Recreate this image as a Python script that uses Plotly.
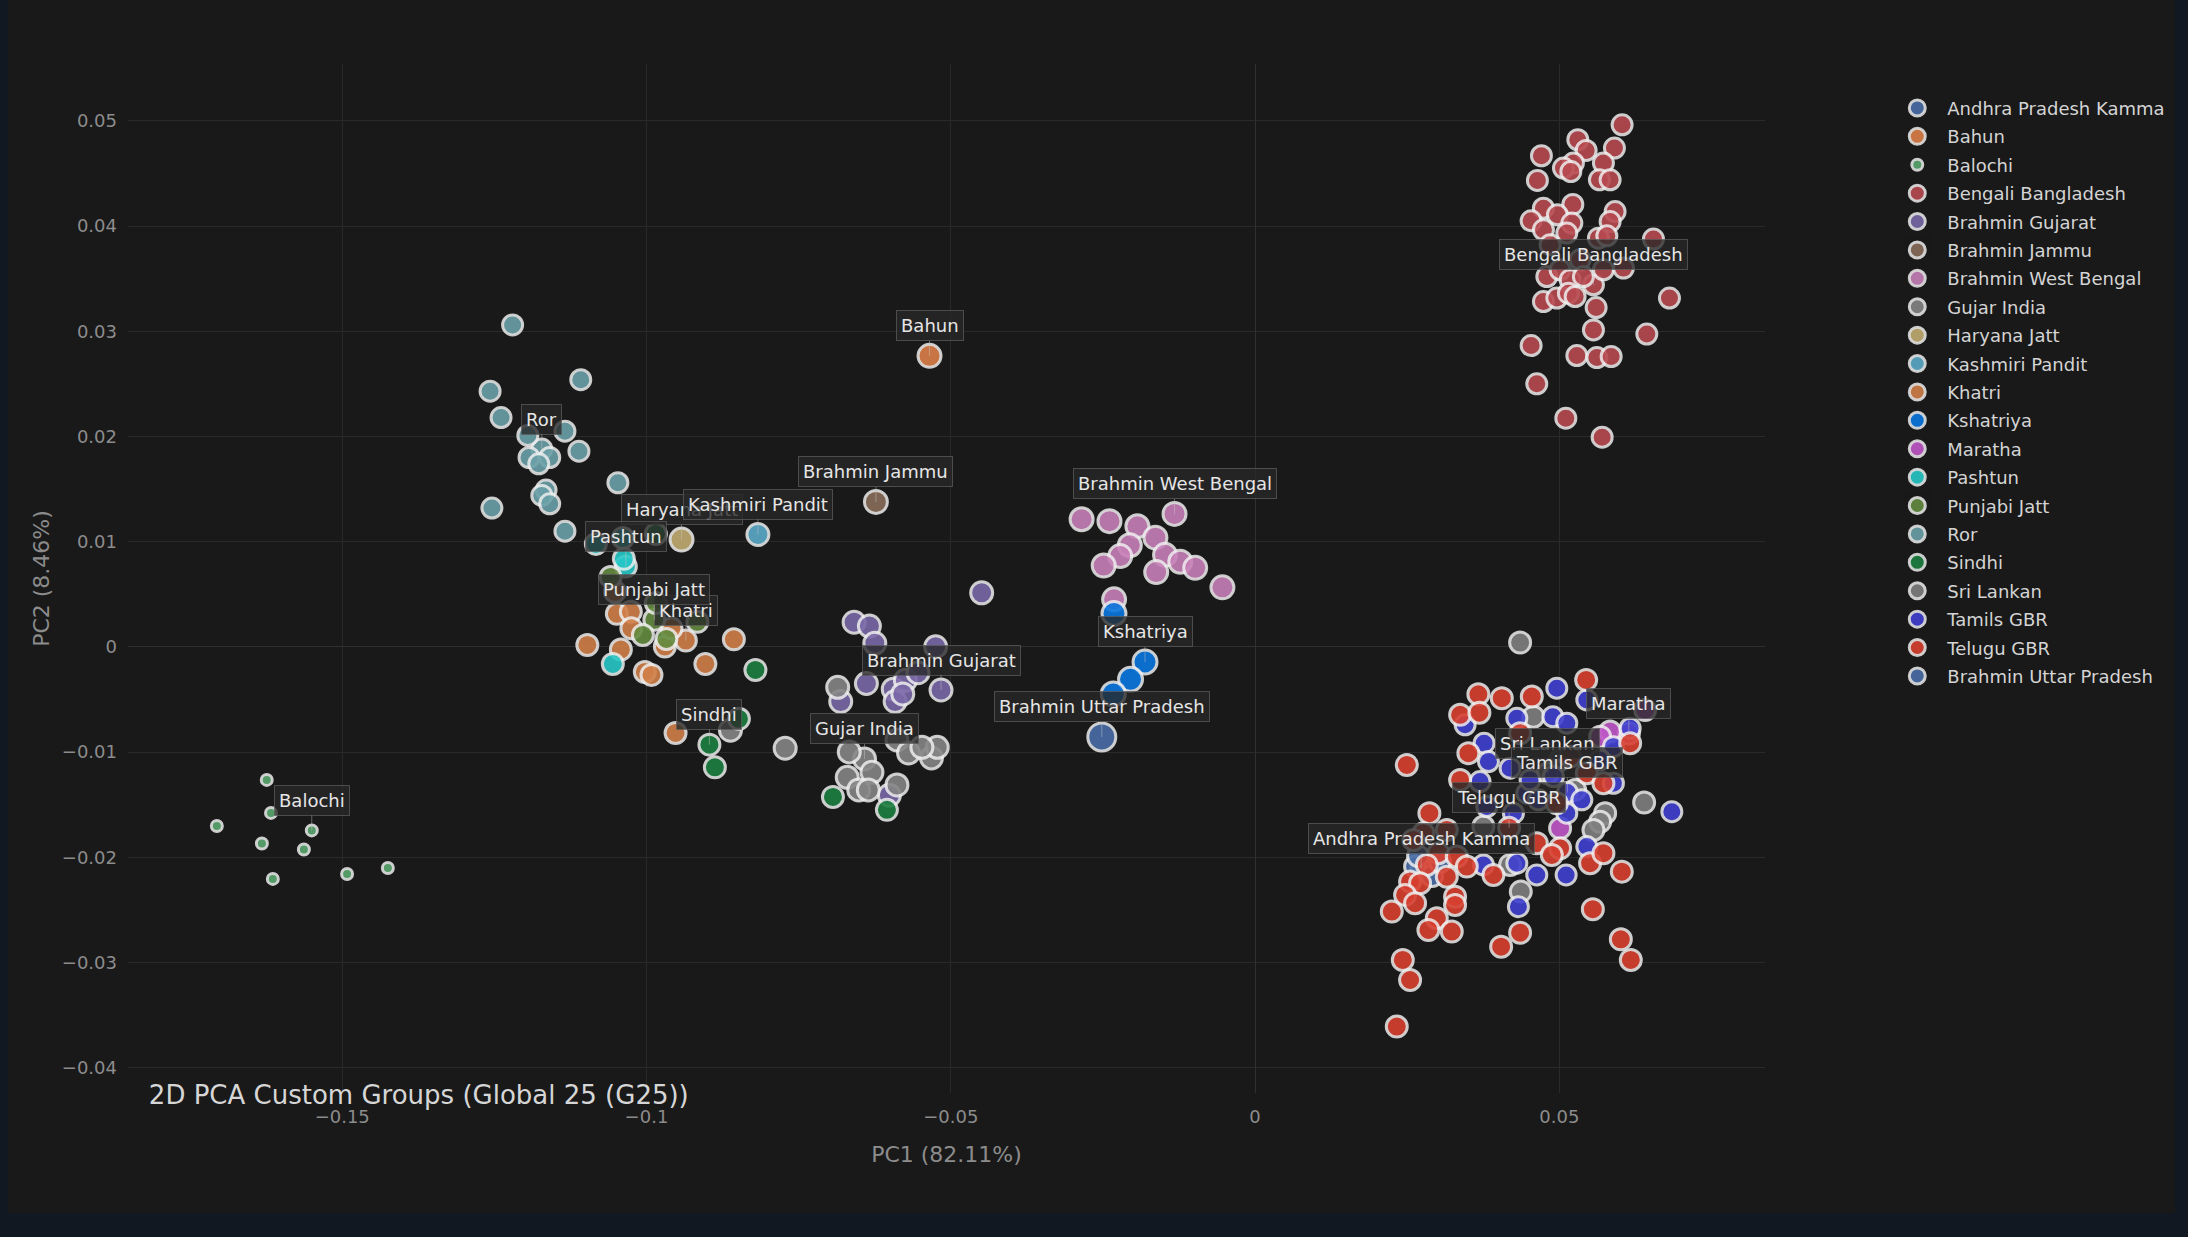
import plotly.graph_objects as go

# ---------------- data (PC1, PC2) ; first point of each group carries its label ----------------
andhra_x = [0.02729, 0.02630, 0.02909, 0.02679, 0.03041]
andhra_y = [-0.02108, -0.02088, -0.02177, -0.01987, -0.02044]

bahun_x = [-0.05349]
bahun_y = [0.02766]

balochi_x = [-0.1550, -0.1624, -0.1617, -0.1706, -0.1632, -0.1563, -0.1614, -0.1492, -0.1425]
balochi_y = [-0.01744, -0.01264, -0.01578, -0.01702, -0.01868, -0.01926, -0.02205, -0.02158, -0.02101]

bengali_x = [0.05561, 0.06032, 0.05304, 0.05441, 0.05906, 0.04706, 0.05725, 0.05232, 0.05068, 0.05189,
             0.05659, 0.05835, 0.04640, 0.04739, 0.05222, 0.05917, 0.04969, 0.04537, 0.05835, 0.05206,
             0.04739, 0.05123, 0.05643, 0.05781, 0.06547, 0.04849, 0.05342, 0.05725, 0.06054, 0.04795,
             0.05013, 0.05178, 0.05396, 0.04739, 0.04959, 0.05150, 0.05260, 0.05605, 0.06810, 0.05561,
             0.06438, 0.04537, 0.05288, 0.05617, 0.05852, 0.04630, 0.05107, 0.05704]
bengali_y = [0.03441, 0.04962, 0.04820, 0.04718, 0.04741, 0.04668, 0.04598, 0.04598, 0.04551, 0.04518,
             0.04439, 0.04439, 0.04433, 0.04170, 0.04205, 0.04138, 0.04107, 0.04050, 0.04043, 0.04028,
             0.03964, 0.03933, 0.03885, 0.03907, 0.03876, 0.03821, 0.03679, 0.03584, 0.03600, 0.03520,
             0.03584, 0.03489, 0.03520, 0.03282, 0.03315, 0.03362, 0.03330, 0.03225, 0.03315, 0.03013,
             0.02973, 0.02864, 0.02769, 0.02750, 0.02760, 0.02500, 0.02174, 0.01993]

brahmin_gujarat_x = [-0.05160, -0.06588, -0.06337, -0.06248, -0.05248, -0.04492, -0.06386, -0.06808,
                     -0.05945, -0.05745, -0.05538, -0.05914, -0.05789, -0.06009]
brahmin_gujarat_y = [-0.00410, 0.00234, 0.00198, 0.00034, 0.00001, 0.00514, -0.00348, -0.00519,
                     -0.00402, -0.00318, -0.00246, -0.00519, -0.00447, -0.01410]

brahmin_jammu_x = [-0.06230]
brahmin_jammu_y = [0.01378]

brahmin_wb_x = [-0.01323, -0.02850, -0.02392, -0.01933, -0.01637, -0.02058, -0.02216, -0.02487,
                -0.01479, -0.01228, -0.01624, -0.00983, -0.00536, -0.02316]
brahmin_wb_y = [0.01264, 0.01213, 0.01195, 0.01147, 0.01038, 0.00966, 0.00863, 0.00773,
                0.00875, 0.00809, 0.00711, 0.00751, 0.00566, 0.00452]

gujar_x = [-0.06417, -0.06858, -0.08620, -0.07721, -0.06668, -0.05884, -0.05694, -0.05317,
           -0.05222, -0.06701, -0.06295, -0.06512, -0.06355, -0.05884, -0.05474]
gujar_y = [-0.01065, -0.00384, -0.00792, -0.00963, -0.00998, -0.00884, -0.01008, -0.01055,
           -0.00955, -0.01240, -0.01192, -0.01359, -0.01359, -0.01312, -0.00955]

haryana_x = [-0.09424]
haryana_y = [0.01020]

kashmiri_x = [-0.08169]
kashmiri_y = [0.01068]

khatri_x = [-0.09353, -0.10487, -0.10257, -0.10520, -0.10972, -0.10248, -0.09698, -0.09589,
            -0.10421, -0.10027, -0.09918, -0.09032, -0.08564, -0.09522]
khatri_y = [0.00060, 0.00314, 0.00333, 0.00523, 0.00019, 0.00176, 0.00003, 0.00176,
            -0.00025, -0.00238, -0.00266, -0.00162, 0.00072, -0.00818]

kshatriya_x = [-0.01808, -0.02318, -0.02046, -0.02329]
kshatriya_y = [-0.00143, 0.00318, -0.00308, -0.00447]

maratha_x = [0.06143, 0.06410, 0.05835, 0.05671, 0.05013]
maratha_y = [-0.00824, -0.00599, -0.00805, -0.00853, -0.01723]

pashtun_x = [-0.10339, -0.10832, -0.10388, -0.10372, -0.10553]
pashtun_y = [0.00765, 0.00979, 0.01036, 0.00837, -0.00162]

punjabi_x = [-0.09871, -0.10590, -0.09846, -0.10059, -0.09673, -0.09164]
punjabi_y = [0.00257, 0.00665, 0.00418, 0.00114, 0.00076, 0.00238]

ror_x = [-0.1172, -0.1220, -0.1257, -0.1108, -0.1239, -0.1195, -0.1134, -0.1159, -0.1193,
         -0.1111, -0.1177, -0.1047, -0.1165, -0.1172, -0.1159, -0.1254, -0.1134]
ror_y = [0.0188, 0.0306, 0.0243, 0.0254, 0.0218, 0.0201, 0.0205, 0.0180, 0.0180,
         0.0186, 0.0174, 0.0156, 0.0149, 0.0144, 0.0136, 0.0132, 0.0110]

sindhi_x = [-0.08966, -0.08210, -0.08481, -0.08876, -0.06936, -0.06049, -0.09846]
sindhi_y = [-0.00929, -0.00219, -0.00684, -0.01145, -0.01426, -0.01549, 0.01074]

srilankan_x = [0.04811, 0.04356, 0.06394, 0.04574, 0.05753, 0.05671, 0.05561, 0.03753,
               0.04191, 0.04367, 0.05013, 0.05260]
srilankan_y = [-0.01201, 0.00041, -0.01480, -0.00663, -0.01581, -0.01661, -0.01740, -0.01708,
               -0.02072, -0.02326, -0.01074, -0.01359]

tamils_x = [0.05133, 0.04959, 0.05452, 0.04302, 0.04893, 0.05123, 0.03452, 0.06164, 0.03764,
            0.03835, 0.04191, 0.05889, 0.05889, 0.03698, 0.05370, 0.05123, 0.03808, 0.04466,
            0.04246, 0.04657, 0.04903, 0.05452, 0.03753, 0.04302, 0.04630, 0.05112, 0.04328,
            0.06849, 0.04520, 0.05671]
tamils_y = [-0.01385, -0.00393, -0.00504, -0.00678, -0.00663, -0.00725, -0.00741, -0.00773, -0.00915,
            -0.01090, -0.01153, -0.00948, -0.01296, -0.01280, -0.01454, -0.01581, -0.01518, -0.01391,
            -0.01581, -0.01454, -0.01233, -0.01898, -0.02072, -0.02056, -0.02167, -0.02167, -0.02469,
            -0.01566, -0.01264, -0.01074]

telugu_x = [0.04175, 0.05441, 0.03670, 0.04055, 0.04548, 0.03370, 0.03687, 0.06164, 0.02494,
            0.03506, 0.04356, 0.03370, 0.05178, 0.05452, 0.05725, 0.04959, 0.02865, 0.03151,
            0.02766, 0.02602, 0.03013, 0.03315, 0.02822, 0.03480, 0.03151, 0.03917, 0.04630,
            0.05013, 0.04877, 0.05506, 0.05725, 0.06027, 0.02548, 0.02712, 0.02466, 0.03287,
            0.02630, 0.03287, 0.02247, 0.02987, 0.02849, 0.03233, 0.04356, 0.04044, 0.05551,
            0.06011, 0.06175, 0.02428, 0.02548, 0.02329]
telugu_y = [-0.01718, -0.00314, -0.00450, -0.00488, -0.00472, -0.00646, -0.00625, -0.00915, -0.01122,
            -0.01010, -0.00820, -0.01264, -0.01043, -0.01201, -0.01296, -0.01486, -0.01581, -0.01740,
            -0.01771, -0.01835, -0.01961, -0.01993, -0.02072, -0.02088, -0.02184, -0.02167, -0.01866,
            -0.01914, -0.01977, -0.02056, -0.01961, -0.02136, -0.02231, -0.02246, -0.02357, -0.02374,
            -0.02436, -0.02453, -0.02516, -0.02579, -0.02690, -0.02706, -0.02716, -0.02849, -0.02493,
            -0.02779, -0.02975, -0.02975, -0.03166, -0.03609]

brahmin_up_x = [-0.02518]
brahmin_up_y = [-0.00856]

series = [
    ("Andhra Pradesh Kamma", andhra_x, andhra_y),
    ("Bahun", bahun_x, bahun_y),
    ("Balochi", balochi_x, balochi_y),
    ("Bengali Bangladesh", bengali_x, bengali_y),
    ("Brahmin Gujarat", brahmin_gujarat_x, brahmin_gujarat_y),
    ("Brahmin Jammu", brahmin_jammu_x, brahmin_jammu_y),
    ("Brahmin West Bengal", brahmin_wb_x, brahmin_wb_y),
    ("Gujar India", gujar_x, gujar_y),
    ("Haryana Jatt", haryana_x, haryana_y),
    ("Kashmiri Pandit", kashmiri_x, kashmiri_y),
    ("Khatri", khatri_x, khatri_y),
    ("Kshatriya", kshatriya_x, kshatriya_y),
    ("Maratha", maratha_x, maratha_y),
    ("Pashtun", pashtun_x, pashtun_y),
    ("Punjabi Jatt", punjabi_x, punjabi_y),
    ("Ror", ror_x, ror_y),
    ("Sindhi", sindhi_x, sindhi_y),
    ("Sri Lankan", srilankan_x, srilankan_y),
    ("Tamils GBR", tamils_x, tamils_y),
    ("Telugu GBR", telugu_x, telugu_y),
    ("Brahmin Uttar Pradesh", brahmin_up_x, brahmin_up_y),
]

# ---------------- styles ----------------
colors = {
    "Andhra Pradesh Kamma": "#4a6ea8", "Bahun": "#dc8048", "Balochi": "#5aa870",
    "Bengali Bangladesh": "#b84a50", "Brahmin Gujarat": "#7a68a8", "Brahmin Jammu": "#8a6e5a",
    "Brahmin West Bengal": "#c880b8", "Gujar India": "#858585", "Haryana Jatt": "#c2ac70",
    "Kashmiri Pandit": "#5aaac8", "Khatri": "#d28048", "Kshatriya": "#0a78e0",
    "Maratha": "#c058c8", "Pashtun": "#28c8c8", "Punjabi Jatt": "#648c40", "Ror": "#6aa0a8",
    "Sindhi": "#1c8040", "Sri Lankan": "#808080", "Tamils GBR": "#4040d0",
    "Telugu GBR": "#d84030", "Brahmin Uttar Pradesh": "#4a6ea8",
}
sizes = {
    "Andhra Pradesh Kamma": 21, "Bahun": 23, "Balochi": 11, "Bengali Bangladesh": 20,
    "Brahmin Gujarat": 22, "Brahmin Jammu": 23, "Brahmin West Bengal": 23, "Gujar India": 22,
    "Haryana Jatt": 23, "Kashmiri Pandit": 22, "Khatri": 21, "Kshatriya": 24, "Maratha": 21,
    "Pashtun": 21, "Punjabi Jatt": 21, "Ror": 20, "Sindhi": 21, "Sri Lankan": 21,
    "Tamils GBR": 20, "Telugu GBR": 21, "Brahmin Uttar Pradesh": 28,
}

FONT = "DejaVu Sans"
fig = go.Figure()
annotations = []
for name, xs, ys in series:
    fig.add_trace(go.Scatter(
        x=xs, y=ys, mode="markers", name=name, legendgroup=name,
        marker=dict(color=colors[name], size=sizes[name], opacity=0.9,
                    line=dict(color="rgba(240,240,240,0.92)", width=3)),
    ))
    annotations.append(dict(
        x=xs[0], y=ys[0], xref="x", yref="y", text=name,
        showarrow=True, arrowhead=0, arrowwidth=1, arrowcolor="rgba(200,200,200,0.45)",
        ax=0, ay=-30,
        font=dict(family=FONT, size=18, color="#e6e6e6"),
        bgcolor="rgba(40,40,40,0.78)", bordercolor="rgba(95,95,95,0.7)",
        borderwidth=1, borderpad=4,
    ))

axis_common = dict(
    showgrid=True, gridcolor="#2a2a2a", gridwidth=1,
    zeroline=True, zerolinecolor="#303030", zerolinewidth=1,
    showline=False, ticks="", automargin=False,
    tickfont=dict(family=FONT, size=18, color="#8c8c8c"),
)

fig.update_layout(
    width=2167, height=1213,
    margin=dict(l=120, r=410, t=64, b=120, autoexpand=False),
    paper_bgcolor="#191919", plot_bgcolor="#191919",
    font=dict(family=FONT, size=18, color="#cfcfcf"),
    title=dict(text="2D PCA Custom Groups (Global 25 (G25))",
               font=dict(family=FONT, size=26, color="#d6d6d6"),
               xref="container", yref="container", x=0.065, xanchor="left",
               y=0.097, yanchor="middle"),
    xaxis=dict(range=[-0.1852, 0.0838], dtick=0.05, tick0=0, ticklabelstandoff=11,
               title=dict(text="PC1 (82.11%)", standoff=20,
                          font=dict(family=FONT, size=22, color="#8c8c8c")),
               **axis_common),
    yaxis=dict(range=[-0.0424, 0.0554], dtick=0.01, tick0=0, ticklabelstandoff=10,
               title=dict(text="PC2 (8.46%)", standoff=6,
                          font=dict(family=FONT, size=22, color="#8c8c8c")),
               **axis_common),
    legend=dict(x=1.0747, xanchor="left", y=0.975, yanchor="top",
                bgcolor="rgba(0,0,0,0)", font=dict(family=FONT, size=18, color="#d4d4d4"),
                itemwidth=50, tracegroupgap=2, itemsizing="trace"),
    annotations=annotations,
    showlegend=True,
)

post = ("document.documentElement.style.background='#121821';"
        "document.body.style.background='#121821';"
        "document.body.style.margin='0px 0px 0px 8px';"
        "document.body.style.overflow='hidden';")
fig.write_html("out.html", post_script=post)
